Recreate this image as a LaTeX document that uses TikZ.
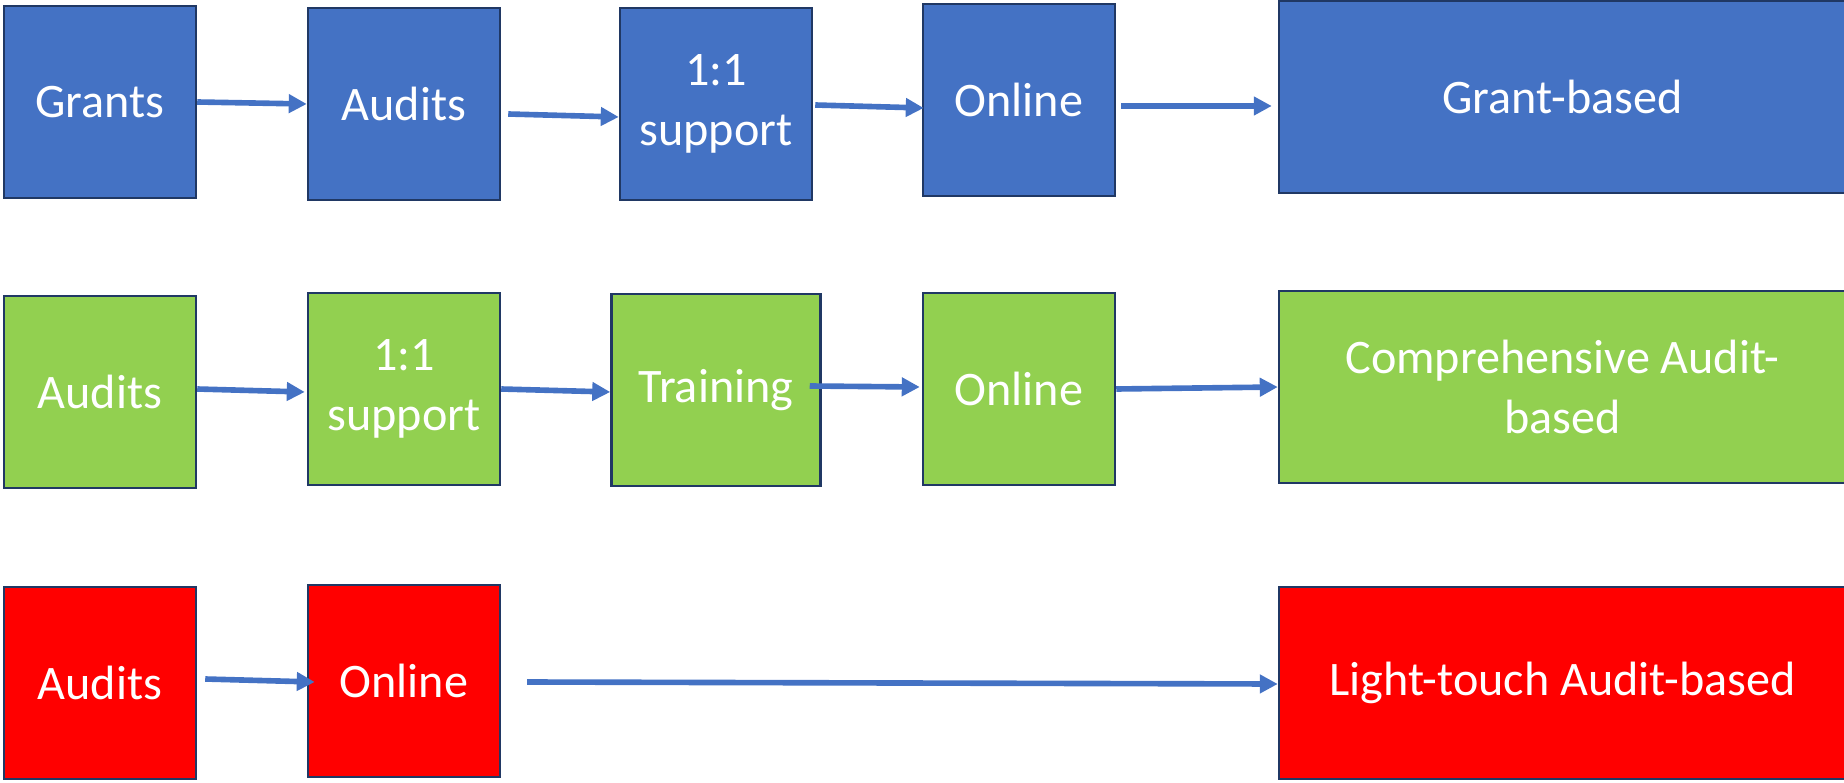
\documentclass[tikz,border=0pt]{standalone}
\usepackage{fontspec}
\setmainfont{Carlito}
\usetikzlibrary{arrows.meta,calc}
\definecolor{boxblue}{HTML}{4472C4}
\definecolor{boxgreen}{HTML}{92D050}
\definecolor{boxred}{HTML}{FF0000}
\definecolor{boxline}{HTML}{203864}
\definecolor{arrowblue}{HTML}{4472C4}

\begin{document}
\begin{tikzpicture}[x=0.1mm, y=-0.1mm,
  box/.style={draw=boxline, line width=0.7pt, text=white, align=center, inner sep=0pt,
    minimum width=19.2mm, minimum height=19.2mm, font=\fontsize{13.7}{17}\selectfont},
  widebox/.style={box, minimum width=56.7mm},
  flow/.style={arrowblue, line width=1.6pt, -{Triangle[length=1.8mm,width=1.8mm]}}]
\useasboundingbox (0,0) rectangle (1844,782);

% Grant row
\node[box, fill=boxblue] (grants) at (100,102) {Grants};
\node[box, fill=boxblue] (audits1) at (404,104) {Audits};
\node[box, fill=boxblue] (support1) at (716,104) {1:1\\support};
\node[box, fill=boxblue] (online1) at (1019,100) {Online};
\node[widebox, fill=boxblue] (grantbased) at (1562.5,97) {Grant-based};

% Comprehensive row
\node[box, fill=boxgreen] (audits2) at (100,392) {Audits};
\node[box, fill=boxgreen] (support2) at (404,389) {1:1\\support};
\node[box, fill=boxgreen, minimum width=20.9mm] (training) at (716,390) {Training};
\node[box, fill=boxgreen] (online2) at (1019,389) {Online};
\node[widebox, fill=boxgreen] (comprehensive) at (1562.5,387) {Comprehensive Audit-\\based};

% Light-touch row
\node[box, fill=boxred] (audits3) at (100,683) {Audits};
\node[box, fill=boxred] (online3) at (404,681) {Online};
\node[widebox, fill=boxred] (lighttouch) at (1562.5,683) {Light-touch Audit-based};

% Arrows
\draw[flow] (grants.east) -- (audits1.west);
\draw[flow] ($(audits1.east)+(7,10)$) -- ($(support1.west)+(0,13)$);
\draw[flow] ($(support1.east)+(2,1)$) -- ($(online1.west)+(2,8)$);
\draw[flow] ($(online1.east)+(5,6)$) -- ($(grantbased.west)+(-6,9)$);

\draw[flow] ($(audits2.east)+(0,-3)$) -- ($(support2.west)+(-2,3)$);
\draw[flow] (support2.east) -- ($(training.west)+(0,2)$);
\draw[flow] ($(training.east)+(-12,-4)$) -- ($(online2.west)+(-2,-2)$);
\draw[flow] (online2.east) -- (comprehensive.west);

\draw[flow] ($(audits3.east)+(8,-4)$) -- ($(online3.west)+(8,1)$);
\draw[flow] ($(online3.east)+(26,1)$) -- ($(lighttouch.west)+(0,1)$);
\end{tikzpicture}
\end{document}
